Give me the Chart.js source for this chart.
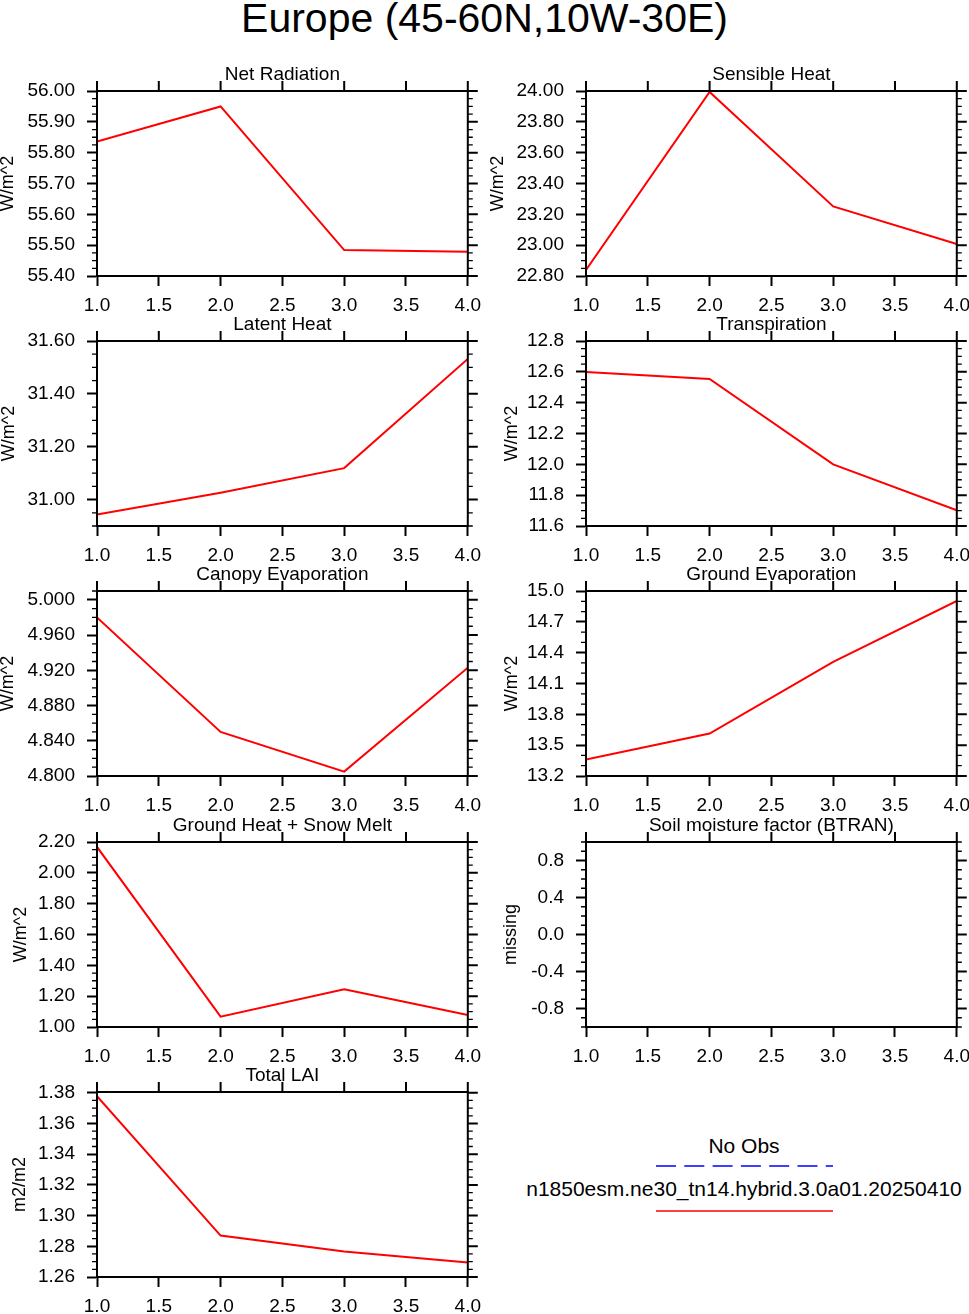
<!DOCTYPE html>
<html lang="en">
<head>
<meta charset="UTF-8">
<title>Europe (45-60N,10W-30E)</title>
<script src="https://cdn.jsdelivr.net/npm/chart.js"></script>
<style>
  body { margin: 0; width: 969px; height: 1314px; background: #fff; position: relative; overflow: hidden;
         font-family: "Liberation Sans", Arial, sans-serif; color: #000; }
  .main-title { position: absolute; left: 0; top: -2px; width: 969px; text-align: center; font-size: 41px; line-height: 41px; }
  .panel { position: absolute; }
  .leg-text { position: absolute; left: 500px; width: 488px; text-align: center; font-size: 21px; line-height: 21px; white-space: nowrap; }
  .leg-lines { position: absolute; left: 650px; top: 1155px; }
</style>
</head>
<body>
<div class="main-title">Europe (45-60N,10W-30E)</div>
<div id="panels"></div>

<div class="leg-text" style="top:1135px">No Obs</div>
<div class="leg-text" style="top:1178px">n1850esm.ne30_tn14.hybrid.3.0a01.20250410</div>
<svg class="leg-lines" width="190" height="70">
  <line x1="6" y1="11" x2="183" y2="11" stroke="#0000ff" stroke-width="1.5" stroke-dasharray="20 8.3"/>
  <line x1="6" y1="56" x2="183" y2="56" stroke="#ff0000" stroke-width="1.5"/>
</svg>

<script>
// x values (years)
const years = [1, 2, 3, 4];
const xTicks = [1.0, 1.5, 2.0, 2.5, 3.0, 3.5, 4.0];

// series
const netRad     = [55.836, 55.950, 55.484, 55.479];
const sensHeat   = [22.839, 23.994, 23.251, 23.008];
const latHeat    = [30.943, 31.026, 31.119, 31.532];
const transp     = [12.599, 12.554, 12.000, 11.702];
const canopyEvap = [4.980, 4.850, 4.805, 4.923];
const groundEvap = [13.360, 13.613, 14.311, 14.903];
const groundHeat = [2.168, 1.067, 1.244, 1.078];
const btran      = [null, null, null, null];
const totalLai   = [1.3778, 1.2870, 1.2766, 1.2695];

// y tick labels
const netRadTicks     = [55.40, 55.50, 55.60, 55.70, 55.80, 55.90, 56.00];
const sensHeatTicks   = [22.80, 23.00, 23.20, 23.40, 23.60, 23.80, 24.00];
const latHeatTicks    = [31.00, 31.20, 31.40, 31.60];
const transpTicks     = [11.6, 11.8, 12.0, 12.2, 12.4, 12.6, 12.8];
const canopyEvapTicks = [4.800, 4.840, 4.880, 4.920, 4.960, 5.000];
const groundEvapTicks = [13.2, 13.5, 13.8, 14.1, 14.4, 14.7, 15.0];
const groundHeatTicks = [1.00, 1.20, 1.40, 1.60, 1.80, 2.00, 2.20];
const btranTicks      = [-0.8, -0.4, 0.0, 0.4, 0.8];
const totalLaiTicks   = [1.26, 1.28, 1.30, 1.32, 1.34, 1.36, 1.38];

const panels = [
  { title: 'Net Radiation', units: 'W/m^2', values: netRad, ticks: netRadTicks, min: 55.40, max: 56.00, minor: 0.025, dec: 2, col: 0, row: 0, tOff: 89 },
  { title: 'Sensible Heat', units: 'W/m^2', values: sensHeat, ticks: sensHeatTicks, min: 22.80, max: 24.00, minor: 0.05, dec: 2, col: 1, row: 0, tOff: 88 },
  { title: 'Latent Heat', units: 'W/m^2', values: latHeat, ticks: latHeatTicks, min: 30.90, max: 31.60, minor: 0.05, dec: 2, col: 0, row: 1, tOff: 88 },
  { title: 'Transpiration', units: 'W/m^2', values: transp, ticks: transpTicks, min: 11.6, max: 12.8, minor: 0.05, dec: 1, col: 1, row: 1, tOff: 74 },
  { title: 'Canopy Evaporation', units: 'W/m^2', values: canopyEvap, ticks: canopyEvapTicks, min: 4.800, max: 5.010, minor: 0.01, dec: 3, col: 0, row: 2, tOff: 89 },
  { title: 'Ground Evaporation', units: 'W/m^2', values: groundEvap, ticks: groundEvapTicks, min: 13.2, max: 15.0, minor: 0.1, dec: 1, col: 1, row: 2, tOff: 74 },
  { title: 'Ground Heat + Snow Melt', units: 'W/m^2', values: groundHeat, ticks: groundHeatTicks, min: 1.00, max: 2.20, minor: 0.05, dec: 2, col: 0, row: 3, tOff: 76 },
  { title: 'Soil moisture factor (BTRAN)', units: 'missing', values: btran, ticks: btranTicks, min: -1, max: 1, minor: 0.1, dec: 1, col: 1, row: 3, tOff: 75 },
  { title: 'Total LAI', units: 'm2/m2', values: totalLai, ticks: totalLaiTicks, min: 1.26, max: 1.3805, minor: 0.005, dec: 2, col: 0, row: 4, tOff: 77 }
];

// page layout (plot boxes)
const plotLeft = [97, 586];
const plotTop = [91, 341, 591, 842, 1092];
const PW = 371, PH = 185;
const PADL = 100, PADT = 35, PADR = 15, PADB = 45;

Chart.defaults.font.family = '"Liberation Sans", Arial, sans-serif';
Chart.defaults.color = '#000';

// box, top/right ticks and minor ticks, NCL style
const frame = {
  id: 'frame',
  afterDraw(chart, args, opts) {
    const { ctx, chartArea: a, scales: { x, y } } = chart;
    ctx.save();
    ctx.strokeStyle = '#000';
    ctx.lineWidth = 2;
    ctx.strokeRect(a.left, a.top, a.right - a.left, a.bottom - a.top);
    ctx.beginPath();
    x.ticks.forEach(t => {
      const px = x.getPixelForValue(t.value);
      ctx.moveTo(px, a.top); ctx.lineTo(px, a.top - 10);
    });
    y.ticks.forEach(t => {
      const py = y.getPixelForValue(t.value);
      ctx.moveTo(a.right, py); ctx.lineTo(a.right + 10, py);
    });
    ctx.stroke();
    ctx.lineWidth = 1.3;
    ctx.beginPath();
    const k0 = Math.ceil(y.min / opts.minor - 1e-6), k1 = Math.floor(y.max / opts.minor + 1e-6);
    for (let k = k0; k <= k1; k++) {
      const v = k * opts.minor;
      if (y.ticks.some(t => Math.abs(t.value - v) < opts.minor / 10)) continue;
      const py = y.getPixelForValue(v);
      ctx.moveTo(a.left - 5, py); ctx.lineTo(a.left, py);
      ctx.moveTo(a.right, py); ctx.lineTo(a.right + 5, py);
    }
    ctx.stroke();
    ctx.restore();
  }
};

function makeConfig(p) {
  const axisLine = { display: true, color: '#000', width: 2 };
  const tickMarks = { drawOnChartArea: false, drawTicks: true, tickLength: 10, tickWidth: 2, tickColor: '#000' };
  return {
    type: 'line',
    data: {
      datasets: [{
        label: p.title,
        data: years.map((x, i) => ({ x: x, y: p.values[i] })),
        borderColor: '#ff0000',
        borderWidth: 2,
        pointRadius: 0,
        tension: 0
      }]
    },
    plugins: [frame],
    options: {
      responsive: false,
      maintainAspectRatio: false,
      animation: false,
      devicePixelRatio: 1,
      layout: { padding: { left: 0, top: 0, right: PADR, bottom: 0 } },
      scales: {
        x: {
          type: 'linear',
          min: 1, max: 4,
          afterBuildTicks: s => { s.ticks = xTicks.map(v => ({ value: v })); },
          afterFit: s => { s.height = PADB; },
          ticks: { font: { size: 19 }, padding: 8, maxRotation: 0, callback: v => v.toFixed(1) },
          grid: tickMarks,
          border: axisLine
        },
        y: {
          type: 'linear',
          min: p.min, max: p.max,
          afterBuildTicks: s => { s.ticks = p.ticks.map(v => ({ value: v })); },
          afterFit: s => { s.width = PADL; },
          ticks: { font: { size: 19 }, padding: 12, callback: v => v.toFixed(p.dec) },
          grid: tickMarks,
          border: axisLine,
          title: {
            display: true, text: p.units, font: { size: 18 },
            padding: { top: Math.max(0, PADL - p.tOff - 10.8), bottom: 0 }
          }
        }
      },
      plugins: {
        legend: { display: false },
        tooltip: { enabled: false },
        title: {
          display: true, text: p.title, fullSize: false,
          font: { size: 19, weight: 'normal' },
          padding: { top: 7, bottom: PADT - 7 - 22.8 }
        },
        frame: { minor: p.minor }
      }
    }
  };
}

const holder = document.getElementById('panels');

panels.forEach(p => {
  const cv = document.createElement('canvas');
  cv.className = 'panel';
  cv.style.left = (plotLeft[p.col] - PADL) + 'px';
  cv.style.top = (plotTop[p.row] - PADT) + 'px';
  holder.appendChild(cv);

  const setSize = (w, h) => {
    cv.width = w; cv.height = h;
    cv.style.width = w + 'px'; cv.style.height = h + 'px';
  };
  let w = PADL + PW + PADR, h = PADT + PH + PADB;
  setSize(w, h);
  let chart = new Chart(cv, makeConfig(p));

  // the x scale reserves extra room for its last label; grow the canvas so the plot box keeps its size
  const a = chart.chartArea;
  const dw = Math.round(PW - (a.right - a.left));
  const dh = Math.round(PH - (a.bottom - a.top));
  if (dw || dh) {
    chart.destroy();
    setSize(w + dw, h + dh);
    chart = new Chart(cv, makeConfig(p));
  }
});
</script>
</body>
</html>
